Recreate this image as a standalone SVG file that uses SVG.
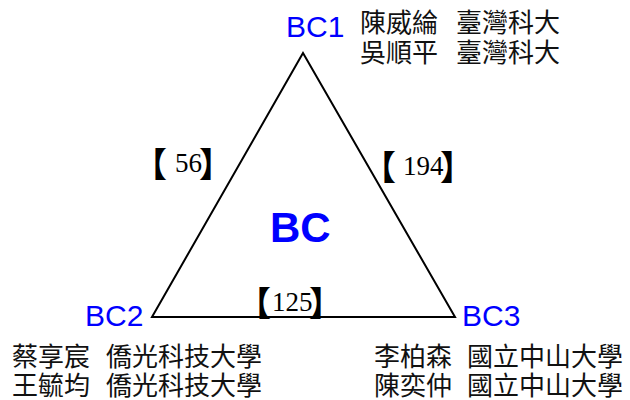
<svg xmlns="http://www.w3.org/2000/svg" width="630" height="400" viewBox="0 0 630 400">
<style>
.lbl{font-family:"Liberation Sans",Arial,sans-serif;fill:#0000ff;font-size:30px}
.big{font-family:"Liberation Sans",Arial,sans-serif;fill:#0000ff;font-size:42px;font-weight:bold}
.cjk{font-family:"Noto Sans CJK TC","Noto Sans CJK SC",sans-serif;font-size:26px;fill:#111}
.num{font-family:"Liberation Serif","Noto Sans CJK TC",serif;font-size:27px;fill:#000}
.br{font-family:"Noto Sans CJK TC",sans-serif;font-size:34px;font-weight:bold}
.edge{fill:none;stroke:#000;stroke-width:2;stroke-linejoin:miter}
</style>
<rect width="630" height="400" fill="#fff"/>
<g id="connectors">
<polygon class="edge" points="303,53 152,317 455,317"/>
<text class="num" id="e12"><tspan class="br" x="133" y="177">【</tspan><tspan x="175" y="172">56</tspan><tspan class="br" x="199" y="177">】</tspan></text>
<text class="num" id="e13"><tspan class="br" x="362" y="180">【</tspan><tspan x="403" y="175">194</tspan><tspan class="br" x="440" y="180">】</tspan></text>
<text class="num" id="e23"><tspan class="br" x="237" y="316">【</tspan><tspan x="272" y="311">125</tspan><tspan class="br" x="309" y="316">】</tspan></text>
</g>
<g id="center"><text class="big" x="270" y="242">BC</text></g>
<g id="BC1">
<text class="lbl" x="286" y="37">BC1</text>
<text class="cjk" x="360" y="32">陳威綸</text>
<text class="cjk" x="456" y="32">臺灣科大</text>
<text class="cjk" x="360" y="62">吳順平</text>
<text class="cjk" x="456" y="62">臺灣科大</text>
</g>
<g id="BC2">
<text class="lbl" x="85" y="326">BC2</text>
<text class="cjk" x="12" y="366">蔡享宸</text>
<text class="cjk" x="106" y="366">僑光科技大學</text>
<text class="cjk" x="12" y="395">王毓均</text>
<text class="cjk" x="106" y="395">僑光科技大學</text>
</g>
<g id="BC3">
<text class="lbl" x="462" y="326">BC3</text>
<text class="cjk" x="374" y="366">李柏森</text>
<text class="cjk" x="467" y="366">國立中山大學</text>
<text class="cjk" x="374" y="395">陳奕仲</text>
<text class="cjk" x="467" y="395">國立中山大學</text>
</g>
</svg>
